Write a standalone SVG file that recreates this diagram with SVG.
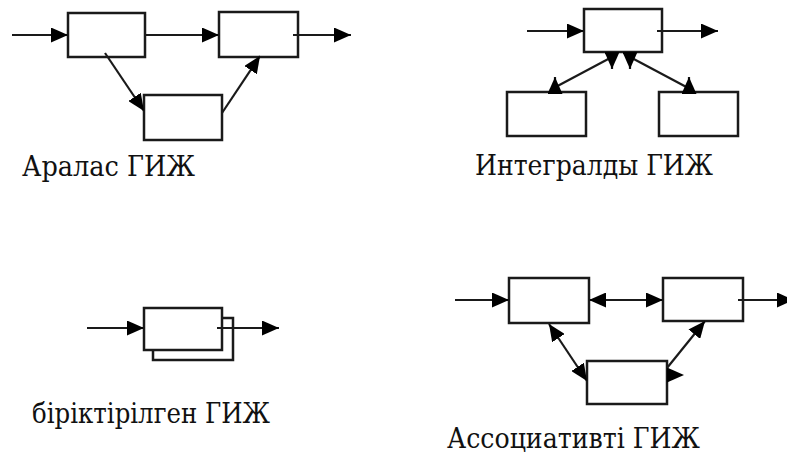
<svg xmlns="http://www.w3.org/2000/svg" width="787" height="460" viewBox="0 0 787 460">
  <style>
    .box { fill: #ffffff; stroke: #1a1a1a; stroke-width: 2.5; }
    .ln { fill: none; stroke: #1a1a1a; stroke-width: 2.2; }
    .lbl { font-family: "DejaVu Serif", "Liberation Serif", serif; font-size: 28px; fill: #111111; }
  </style>
  <defs>
    <marker id="arr" viewBox="0 0 17 15" refX="17" refY="7.5" markerWidth="17" markerHeight="15" markerUnits="userSpaceOnUse" orient="auto-start-reverse">
      <path d="M0,0 L17,7.5 L0,15 z" fill="#000"/>
    </marker>
    <marker id="down" viewBox="0 0 17 15" refX="17" refY="7.5" markerWidth="17" markerHeight="15" markerUnits="userSpaceOnUse" orient="90">
      <path d="M0,0 L17,7.5 L0,15 z" fill="#000"/>
    </marker>
    <marker id="up" viewBox="0 0 17 15" refX="17" refY="7.5" markerWidth="17" markerHeight="15" markerUnits="userSpaceOnUse" orient="-90">
      <path d="M0,0 L17,7.5 L0,15 z" fill="#000"/>
    </marker>
    <marker id="right" viewBox="0 0 17 15" refX="0" refY="7.5" markerWidth="17" markerHeight="15" markerUnits="userSpaceOnUse" orient="0">
      <path d="M0,0 L17,7.5 L0,15 z" fill="#000"/>
    </marker>
  </defs>

  <!-- Mixed scheme -->
  <g id="mixed-a"><rect class="box" x="68" y="13" width="77" height="44"/></g>
  <g id="mixed-b"><rect class="box" x="219" y="12" width="79" height="45"/></g>
  <g id="mixed-c"><rect class="box" x="144" y="95" width="78" height="45"/></g>
  <g id="mixed-label"><text class="lbl" x="22" y="176" textLength="173" lengthAdjust="spacingAndGlyphs">Аралас ГИЖ</text></g>

  <!-- Integral scheme -->
  <g id="integral-main"><rect class="box" x="584" y="9" width="78" height="43"/></g>
  <g id="integral-left"><rect class="box" x="507" y="92" width="79" height="44"/></g>
  <g id="integral-right"><rect class="box" x="659" y="92" width="79" height="44"/></g>
  <g id="integral-label"><text class="lbl" x="475" y="175" textLength="238" lengthAdjust="spacingAndGlyphs">Интегралды ГИЖ</text></g>

  <!-- Combined scheme -->
  <g id="combined-back"><rect class="box" x="153" y="318" width="80" height="42"/></g>
  <g id="combined-front"><rect class="box" x="144" y="308" width="78" height="42"/></g>
  <g id="combined-label"><text class="lbl" x="32" y="423" textLength="238" lengthAdjust="spacingAndGlyphs">біріктірілген ГИЖ</text></g>

  <!-- Associative scheme -->
  <g id="assoc-a"><rect class="box" x="509" y="278" width="80" height="45"/></g>
  <g id="assoc-b"><rect class="box" x="663" y="278" width="80" height="43"/></g>
  <g id="assoc-c"><rect class="box" x="587" y="361" width="80" height="43"/></g>
  <g id="assoc-label"><text class="lbl" x="447" y="448" textLength="253" lengthAdjust="spacingAndGlyphs">Ассоциативті ГИЖ</text></g>

  <g id="connectors">
    <!-- mixed -->
    <line class="ln" x1="12" y1="35" x2="68" y2="35" marker-end="url(#arr)"/>
    <line class="ln" x1="145" y1="35" x2="219" y2="35" marker-end="url(#arr)"/>
    <line class="ln" x1="293" y1="35" x2="351" y2="35" marker-end="url(#arr)"/>
    <line class="ln" x1="105" y1="53" x2="144" y2="111" marker-end="url(#arr)"/>
    <line class="ln" x1="222" y1="113" x2="260" y2="56" marker-end="url(#arr)"/>

    <!-- integral -->
    <line class="ln" x1="527" y1="31" x2="584" y2="31" marker-end="url(#arr)"/>
    <line class="ln" x1="657" y1="31" x2="718" y2="31" marker-end="url(#arr)"/>
    <line class="ln" x1="612" y1="57" x2="550" y2="90"/>
    <line class="ln" x1="630" y1="57" x2="692" y2="90"/>
    <line class="ln" x1="612" y1="53" x2="612" y2="69" marker-end="url(#down)"/>
    <line class="ln" x1="630" y1="53" x2="630" y2="69" marker-end="url(#down)"/>
    <line class="ln" x1="555" y1="92" x2="555" y2="77" marker-end="url(#up)"/>
    <line class="ln" x1="689" y1="92" x2="689" y2="77" marker-end="url(#up)"/>

    <!-- combined -->
    <line class="ln" x1="87" y1="328" x2="144" y2="328" marker-end="url(#arr)"/>
    <line class="ln" x1="217" y1="328" x2="279" y2="328" marker-end="url(#arr)"/>

    <!-- associative -->
    <line class="ln" x1="455" y1="300" x2="509" y2="300" marker-end="url(#arr)"/>
    <line class="ln" x1="589" y1="300" x2="663" y2="300" marker-start="url(#arr)" marker-end="url(#arr)"/>
    <line class="ln" x1="738" y1="300" x2="794" y2="300" marker-end="url(#arr)"/>
    <line class="ln" x1="549" y1="324" x2="587" y2="381" marker-start="url(#arr)" marker-end="url(#arr)"/>
    <line class="ln" x1="667" y1="368" x2="705" y2="321" marker-end="url(#arr)"/>
    <line class="ln" x1="667" y1="375" x2="668" y2="375" marker-start="url(#right)"/>
  </g>
</svg>
